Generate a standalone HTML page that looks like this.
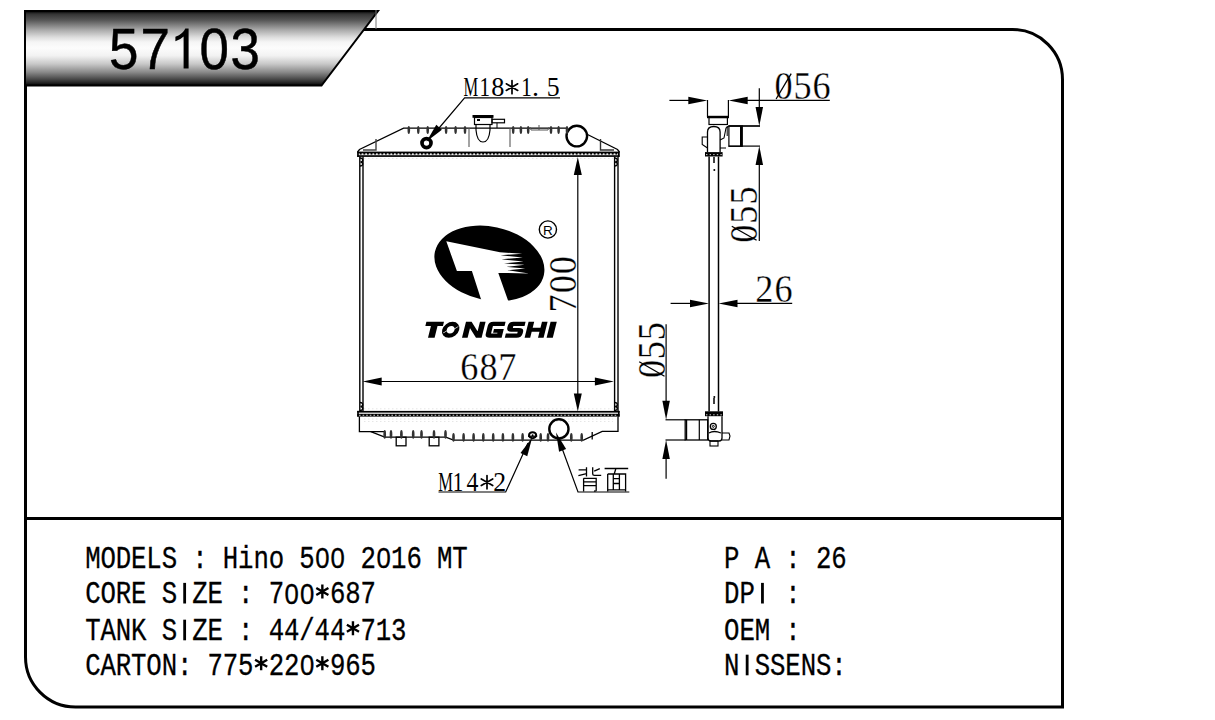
<!DOCTYPE html><html><head><meta charset="utf-8"><style>html,body{margin:0;padding:0;background:#fff;overflow:hidden;width:1215px;height:720px;}svg{display:block;}</style></head><body>
<svg width="1215" height="720" viewBox="0 0 1215 720">
<defs><linearGradient id="bg" x1="0" y1="0" x2="0" y2="1">
<stop offset="0" stop-color="#000"/><stop offset="0.04" stop-color="#333"/><stop offset="0.12" stop-color="#555"/>
<stop offset="0.255" stop-color="#aaa"/><stop offset="0.35" stop-color="#dcdcdc"/><stop offset="0.416" stop-color="#f5f5f5"/>
<stop offset="0.497" stop-color="#fcfcfc"/><stop offset="0.6" stop-color="#f2f2f2"/><stop offset="0.71" stop-color="#c8c8c8"/>
<stop offset="0.82" stop-color="#8a8a8a"/><stop offset="0.913" stop-color="#4a4a4a"/><stop offset="0.966" stop-color="#222"/><stop offset="1" stop-color="#000"/>
</linearGradient></defs>
<path d="M25.5,10 L25.5,657 A50,50 0 0 0 75.5,707 L1062.5,707 L1062.5,80 A50,50 0 0 0 1012.5,29.5 L363,29.5" fill="none" stroke="#000" stroke-width="3"/>
<line x1="25.5" y1="518.5" x2="1062.5" y2="518.5" stroke="#000" stroke-width="3"/>
<polygon points="25,11 378,11 321.5,85.5 25,85.5" fill="url(#bg)" stroke="#000" stroke-width="2"/>
<line x1="376" y1="10" x2="376" y2="29" stroke="#777" stroke-width="1"/>
<text transform="translate(123.70,68.7) scale(0.92,1)" font-family="&quot;Liberation Sans&quot;, sans-serif" font-size="57.5" text-anchor="middle" fill="#000" stroke="#000" stroke-width="0.5">5</text>
<text transform="translate(155.20,68.7) scale(0.92,1)" font-family="&quot;Liberation Sans&quot;, sans-serif" font-size="57.5" text-anchor="middle" fill="#000" stroke="#000" stroke-width="0.5">7</text>
<text transform="translate(214.30,68.7) scale(0.92,1)" font-family="&quot;Liberation Sans&quot;, sans-serif" font-size="57.5" text-anchor="middle" fill="#000" stroke="#000" stroke-width="0.5">0</text>
<text transform="translate(245.20,68.7) scale(0.92,1)" font-family="&quot;Liberation Sans&quot;, sans-serif" font-size="57.5" text-anchor="middle" fill="#000" stroke="#000" stroke-width="0.5">3</text>
<path d="M183.6,68.6 L188.6,68.6 L188.6,28.4 L185.3,28.4 Q183.2,33.6 175.4,36.8 L175.4,41.3 Q180.6,39.4 183.6,36.4 Z" fill="#000"/>
<text transform="scale(0.8300,1)" x="111.87 130.30 148.73 167.17 185.60 204.04 240.90 277.77 296.20 314.64 333.07 369.94 443.67 480.54 498.98 535.84 554.28" y="567.80" font-family="&quot;Liberation Mono&quot;, monospace" font-size="31.00" font-weight="normal" text-anchor="middle" fill="#000" stroke="#000" stroke-width="0.3">MODELS:Hino5216MT</text><text transform="translate(322.35,567.80) scale(0.9,1)" font-family="&quot;Liberation Sans&quot;, sans-serif" font-size="28.6" text-anchor="middle" fill="#000" stroke="#000" stroke-width="0.3">0</text><text transform="translate(337.65,567.80) scale(0.9,1)" font-family="&quot;Liberation Sans&quot;, sans-serif" font-size="28.6" text-anchor="middle" fill="#000" stroke="#000" stroke-width="0.3">0</text><text transform="translate(383.55,567.80) scale(0.9,1)" font-family="&quot;Liberation Sans&quot;, sans-serif" font-size="28.6" text-anchor="middle" fill="#000" stroke="#000" stroke-width="0.3">0</text>
<text transform="scale(0.8300,1)" x="111.87 130.30 148.73 167.17 204.04 240.90 259.34 296.20 333.07 406.81 425.24 443.67" y="603.50" font-family="&quot;Liberation Mono&quot;, monospace" font-size="31.00" font-weight="normal" text-anchor="middle" fill="#000" stroke="#000" stroke-width="0.3">CORESZE:7687</text><rect x="183.25" y="582.88" width="2.8" height="20.62" fill="#000"/><text transform="translate(291.75,603.50) scale(0.9,1)" font-family="&quot;Liberation Sans&quot;, sans-serif" font-size="28.6" text-anchor="middle" fill="#000" stroke="#000" stroke-width="0.3">0</text><text transform="translate(307.05,603.50) scale(0.9,1)" font-family="&quot;Liberation Sans&quot;, sans-serif" font-size="28.6" text-anchor="middle" fill="#000" stroke="#000" stroke-width="0.3">0</text><path d="M322.35,584.50 L322.35,598.50 M316.29,588.00 L328.41,595.00 M328.41,588.00 L316.29,595.00" stroke="#000" stroke-width="2.4" fill="none"/>
<text transform="scale(0.8300,1)" x="111.87 130.30 148.73 167.17 204.04 240.90 259.34 296.20 333.07 351.51 369.94 388.37 406.81 443.67 462.11 480.54" y="640.30" font-family="&quot;Liberation Mono&quot;, monospace" font-size="31.00" font-weight="normal" text-anchor="middle" fill="#000" stroke="#000" stroke-width="0.3">TANKSZE:44/44713</text><rect x="183.25" y="619.68" width="2.8" height="20.62" fill="#000"/><path d="M352.95,621.30 L352.95,635.30 M346.89,624.80 L359.01,631.80 M359.01,624.80 L346.89,631.80" stroke="#000" stroke-width="2.4" fill="none"/>
<text transform="scale(0.8300,1)" x="111.87 130.30 148.73 167.17 185.60 204.04 222.47 259.34 277.77 296.20 333.07 351.51 406.81 425.24 443.67" y="675.30" font-family="&quot;Liberation Mono&quot;, monospace" font-size="31.00" font-weight="normal" text-anchor="middle" fill="#000" stroke="#000" stroke-width="0.3">CARTON:77522965</text><path d="M261.15,656.30 L261.15,670.30 M255.09,659.80 L267.21,666.80 M267.21,659.80 L255.09,666.80" stroke="#000" stroke-width="2.4" fill="none"/><text transform="translate(307.05,675.30) scale(0.9,1)" font-family="&quot;Liberation Sans&quot;, sans-serif" font-size="28.6" text-anchor="middle" fill="#000" stroke="#000" stroke-width="0.3">0</text><path d="M322.35,656.30 L322.35,670.30 M316.29,659.80 L328.41,666.80 M328.41,659.80 L316.29,666.80" stroke="#000" stroke-width="2.4" fill="none"/>
<text transform="scale(0.8300,1)" x="881.75 918.61 955.48 992.35 1010.78" y="567.80" font-family="&quot;Liberation Mono&quot;, monospace" font-size="31.00" font-weight="normal" text-anchor="middle" fill="#000" stroke="#000" stroke-width="0.3">PA:26</text>
<text transform="scale(0.8300,1)" x="881.75 900.18 955.48" y="603.50" font-family="&quot;Liberation Mono&quot;, monospace" font-size="31.00" font-weight="normal" text-anchor="middle" fill="#000" stroke="#000" stroke-width="0.3">DP:</text><rect x="761.05" y="582.88" width="2.8" height="20.62" fill="#000"/>
<text transform="scale(0.8300,1)" x="881.75 900.18 918.61 955.48" y="640.30" font-family="&quot;Liberation Mono&quot;, monospace" font-size="31.00" font-weight="normal" text-anchor="middle" fill="#000" stroke="#000" stroke-width="0.3">OEM:</text>
<text transform="scale(0.8300,1)" x="881.75 918.61 937.05 955.48 973.92 992.35 1010.78" y="675.30" font-family="&quot;Liberation Mono&quot;, monospace" font-size="31.00" font-weight="normal" text-anchor="middle" fill="#000" stroke="#000" stroke-width="0.3">NSSENS:</text><rect x="745.75" y="654.68" width="2.8" height="20.62" fill="#000"/>
<g fill="none" stroke="#000" stroke-linecap="butt">
<polyline points="357.5,152 359.5,149.5 403.6,128.2 566.5,128.2" stroke-width="1.3"/>
<polyline points="587.5,134.5 617.5,149.5 619.5,152" stroke-width="1.3"/>
<polyline points="363,150 376,150 376,139" stroke="#444" stroke-width="1.4"/>
<polyline points="614,150 600.5,150 600.5,139" stroke="#333" stroke-width="1.4"/>
<line x1="469" y1="128.5" x2="469" y2="147" stroke="#666" stroke-width="1.2"/>
<line x1="510" y1="128.5" x2="510" y2="147" stroke="#666" stroke-width="1.2"/>
<polyline points="530,127 531,130 548,130 549,127" stroke="#555" stroke-width="1"/>
<line x1="539" y1="125" x2="539" y2="130" stroke="#555" stroke-width="1"/>
<circle cx="576.8" cy="136.1" r="10.3" stroke-width="2.4"/>
<circle cx="426.5" cy="143.1" r="4.5" stroke-width="3.7"/>
<rect x="474.5" y="117.5" width="17.5" height="7" stroke-width="1.2"/>
<path d="M476,124.5 L476,130 Q477,142 483,142 Q489,142 490,130 L490,124.5" stroke-width="1.2"/>
<rect x="492" y="119.3" width="12.5" height="3.5" stroke-width="1.2"/>
<line x1="497" y1="122.8" x2="497" y2="128" stroke-width="1"/>
</g>
<rect x="472.5" y="115" width="21" height="2.8" fill="#000"/>
<rect x="477" y="119" width="3" height="2" fill="#000"/>
<ellipse cx="408.8" cy="130" rx="1.3" ry="4.1" fill="#333"/>
<ellipse cx="418.3" cy="130" rx="1.3" ry="4.1" fill="#333"/>
<ellipse cx="427.7" cy="130" rx="1.3" ry="4.1" fill="#333"/>
<ellipse cx="446.1" cy="130" rx="1.3" ry="4.1" fill="#333"/>
<ellipse cx="455.6" cy="130" rx="1.3" ry="4.1" fill="#333"/>
<ellipse cx="465.0" cy="130" rx="1.3" ry="4.1" fill="#333"/>
<ellipse cx="513.2" cy="130" rx="1.3" ry="4.1" fill="#333"/>
<ellipse cx="520.9" cy="130" rx="1.3" ry="4.1" fill="#333"/>
<ellipse cx="528.2" cy="130" rx="1.3" ry="4.1" fill="#333"/>
<ellipse cx="551.0" cy="130" rx="1.3" ry="4.1" fill="#333"/>
<ellipse cx="558.6" cy="130" rx="1.3" ry="4.1" fill="#333"/>
<ellipse cx="567.0" cy="130" rx="1.3" ry="4.1" fill="#333"/>
<rect x="357.2" y="151.6" width="262.4" height="1.6" fill="#000"/>
<rect x="357.2" y="153.2" width="262.4" height="2.3" fill="#666"/>
<line x1="358" y1="154.4" x2="619" y2="154.4" stroke="#eee" stroke-width="1.3" stroke-dasharray="1.8,1.8"/>
<line x1="358" y1="153.3" x2="619" y2="153.3" stroke="#000" stroke-width="1.2" stroke-dasharray="1.8,1.8" stroke-dashoffset="1.8"/>
<rect x="357.2" y="155.3" width="262.4" height="1.6" fill="#000"/>
<rect x="357.2" y="151.6" width="1.6" height="5.3" fill="#000"/><rect x="618" y="151.6" width="1.6" height="5.3" fill="#000"/>
<rect x="357.2" y="410.9" width="262.4" height="1.7" fill="#000"/>
<rect x="357.2" y="413.8" width="262.4" height="2.8" fill="#000"/>
<line x1="359" y1="415.2" x2="618" y2="415.2" stroke="#ccc" stroke-width="1.1" stroke-dasharray="1.6,2"/>
<rect x="357.2" y="410.9" width="1.6" height="5.7" fill="#000"/><rect x="618" y="410.9" width="1.6" height="5.7" fill="#000"/>
<g stroke="#000" stroke-width="1.4">
<line x1="359.8" y1="156.6" x2="359.8" y2="411"/>
<line x1="363.0" y1="156.6" x2="363.0" y2="411"/>
<line x1="614.6" y1="156.6" x2="614.6" y2="411"/>
<line x1="618.0" y1="156.6" x2="618.0" y2="411"/>
</g>
<g fill="none" stroke="#000" stroke-width="1.3">
<path d="M360.0,158 C363.5,158 363.5,161.8 360.5,162 C363.5,162.2 363.5,166 360.0,166" />
<path d="M360.0,402.5 C363.5,402.5 363.5,406.3 360.5,406.5 C363.5,406.7 363.5,410.5 360.0,410.5" />
<path d="M614.6,158 C618.1,158 618.1,161.8 615.1,162 C618.1,162.2 618.1,166 614.6,166" />
<path d="M614.6,402.5 C618.1,402.5 618.1,406.3 615.1,406.5 C618.1,406.7 618.1,410.5 614.6,410.5" />
</g>
<g stroke="#e6e6e6" stroke-width="1" stroke-dasharray="1.5,2.5">
<line x1="364" y1="158.5" x2="613" y2="158.5"/><line x1="364" y1="408.8" x2="613" y2="408.8"/><line x1="364" y1="419" x2="613" y2="419"/><line x1="364" y1="421.5" x2="613" y2="421.5"/>
</g>
<g fill="none" stroke="#000" stroke-width="1.3">
<polyline points="359.4,416.6 359.4,431.7 384.7,431.7 384.7,437.2"/>
<polyline points="370.8,431.7 384.7,437.2 445.8,437.2 453.5,440.2 583.5,440.2 602.2,431.3 618,431.3 618,416.6"/>
<line x1="592.2" y1="432" x2="592.2" y2="439.5"/>
<rect x="396.2" y="437.2" width="9.8" height="8.6"/>
<rect x="429.2" y="437.2" width="9.7" height="8.6"/>
<circle cx="558.9" cy="428.9" r="9.6" stroke-width="2.4"/>
</g>
<ellipse cx="384.7" cy="434.4" rx="1.35" ry="4.3" fill="#333"/>
<ellipse cx="391.0" cy="434.4" rx="1.35" ry="4.3" fill="#333"/>
<ellipse cx="401.4" cy="434.4" rx="1.35" ry="4.3" fill="#333"/>
<ellipse cx="413.2" cy="434.4" rx="1.35" ry="4.3" fill="#333"/>
<ellipse cx="421.5" cy="434.4" rx="1.35" ry="4.3" fill="#333"/>
<ellipse cx="434.0" cy="434.4" rx="1.35" ry="4.3" fill="#333"/>
<ellipse cx="445.5" cy="434.4" rx="1.35" ry="4.3" fill="#333"/>
<ellipse cx="453.5" cy="437.4" rx="1.35" ry="4.3" fill="#333"/>
<ellipse cx="463.6" cy="437.4" rx="1.35" ry="4.3" fill="#333"/>
<ellipse cx="473.6" cy="437.4" rx="1.35" ry="4.3" fill="#333"/>
<ellipse cx="483.3" cy="437.4" rx="1.35" ry="4.3" fill="#333"/>
<ellipse cx="493.2" cy="437.4" rx="1.35" ry="4.3" fill="#333"/>
<ellipse cx="502.9" cy="437.4" rx="1.35" ry="4.3" fill="#333"/>
<ellipse cx="512.9" cy="437.4" rx="1.35" ry="4.3" fill="#333"/>
<ellipse cx="522.6" cy="437.4" rx="1.35" ry="4.3" fill="#333"/>
<ellipse cx="540.7" cy="437.4" rx="1.35" ry="4.3" fill="#333"/>
<ellipse cx="548.0" cy="437.4" rx="1.35" ry="4.3" fill="#333"/>
<ellipse cx="571.3" cy="437.4" rx="1.35" ry="4.3" fill="#333"/>
<ellipse cx="581.7" cy="437.4" rx="1.35" ry="4.3" fill="#333"/>
<ellipse cx="532.6" cy="435.2" rx="3.6" ry="3" fill="none" stroke="#000" stroke-width="2"/><rect x="528" y="435.6" width="9.2" height="1.3" fill="#000"/><circle cx="532.6" cy="435.2" r="0.9" fill="#000"/>
<g stroke="#000" stroke-width="1.2" fill="none">
<polyline points="560,97.9 464.6,97.9 434,134"/>
<polyline points="438.5,492 505.7,492 528,443"/>
<polyline points="629.3,492 578,492 559,440"/>
</g>
<g fill="#000" stroke="none">
<polygon points="426.60,141.50 436.26,124.71 441.91,129.64"/>
<polygon points="532.20,437.50 527.26,456.23 520.52,452.95"/>
<polygon points="556.00,432.60 566.12,449.11 559.08,451.72"/>
</g>
<g stroke="#000" stroke-width="1.2">
<line x1="577.8" y1="165" x2="577.8" y2="404"/>
<line x1="370" y1="381.5" x2="606" y2="381.5"/>
</g>
<g fill="#000">
<polygon points="577.80,157.00 581.80,175.00 573.80,175.00"/>
<polygon points="577.80,411.40 573.80,393.40 581.80,393.40"/>
<polygon points="362.70,381.50 381.70,377.50 381.70,385.50"/>
<polygon points="613.90,381.50 594.90,385.50 594.90,377.50"/>
</g>
<g fill="none" stroke="#000" stroke-width="1.2">
<line x1="669.4" y1="100.4" x2="690" y2="100.4"/>
<line x1="745" y1="100.4" x2="829.8" y2="100.4"/>
<line x1="707.5" y1="100" x2="707.5" y2="117"/>
<line x1="728.4" y1="100" x2="728.4" y2="117"/>
<line x1="759.3" y1="88.2" x2="759.3" y2="110"/>
<line x1="728.7" y1="126" x2="760" y2="126"/>
<line x1="728.7" y1="146.1" x2="760" y2="146.1"/>
<line x1="759.3" y1="160" x2="759.3" y2="240.9"/>
<line x1="670.6" y1="303.4" x2="692" y2="303.4"/>
<line x1="735" y1="303.4" x2="792.2" y2="303.4"/>
<line x1="666.1" y1="324.2" x2="666.1" y2="404"/>
<line x1="665.5" y1="419.8" x2="685.5" y2="419.8"/>
<line x1="665.5" y1="440" x2="685.5" y2="440"/>
<line x1="666.1" y1="455" x2="666.1" y2="478.8"/>
<line x1="709.1" y1="156.5" x2="709.1" y2="411.5" stroke-width="1.5"/>
<line x1="718.5" y1="156.5" x2="718.5" y2="411.5" stroke-width="1.5"/>
<line x1="714" y1="157" x2="714" y2="163" stroke-width="1.5"/>
<line x1="714" y1="398" x2="714" y2="404" stroke-width="1.5"/>
<rect x="709" y="117.5" width="18.4" height="7" stroke-width="1.2"/>
<polyline points="728.9,126 760,126" />
<rect x="728.9" y="126" width="13.4" height="20.3" stroke-width="1.2"/>
<line x1="741" y1="126" x2="741" y2="146.3" stroke-width="2"/>
<path d="M707.5,152 L707.5,132 Q707.5,126.5 713.8,126.5 Q720.1,126.5 720.1,132 L720.1,152" stroke-width="1.3"/>
<polyline points="707.5,137 702.2,137 702.2,144.5 707.5,148" stroke-width="1.1"/>
<path d="M720.1,140 L724,138 L726,128 L728.9,126 M726,148 L720.1,148" stroke-width="1.1"/>
<line x1="727.2" y1="126" x2="727.2" y2="136" stroke-width="1"/>
<rect x="685.2" y="419.8" width="22.5" height="20.2" stroke-width="1.3"/>
<line x1="686.6" y1="419.8" x2="686.6" y2="440" stroke-width="1.2"/>
<line x1="699.3" y1="419.8" x2="699.3" y2="440" stroke-width="1.2"/>
<path d="M708,416.2 L708,438 Q708,441 711,441 L719,441 Q722,441 722,438 L722,416.2" stroke-width="1.3"/>
<circle cx="713.3" cy="426.4" r="3" stroke-width="1.3"/>
<circle cx="713.3" cy="426.4" r="1" stroke-width="1"/>
<path d="M709,433 Q714,430 721,433" stroke-width="1.3"/>
<rect x="710" y="441" width="8" height="5" stroke-width="1.1"/>
<polyline points="722,433 729,433 730,436 729,440 722,440" stroke-width="1.1"/>
</g>
<g fill="#000">
<rect x="707" y="115.8" width="22" height="2.4"/>
<rect x="705" y="152.1" width="17.6" height="4.4"/>
<rect x="705" y="411.3" width="18" height="4.9"/>
</g><g stroke="#ccc" stroke-width="1" stroke-dasharray="1.4,2.2"><line x1="706" y1="154.6" x2="722" y2="154.6"/><line x1="706" y1="414.8" x2="722" y2="414.8"/></g><g fill="#000">
<circle cx="714.3" cy="170" r="1"/><circle cx="714.3" cy="397" r="1"/>
<polygon points="707.30,100.40 688.30,104.15 688.30,96.65"/>
<polygon points="728.70,100.40 747.70,96.65 747.70,104.15"/>
<polygon points="759.30,126.00 755.55,107.00 763.05,107.00"/>
<polygon points="759.30,146.10 763.05,165.10 755.55,165.10"/>
<polygon points="709.00,303.40 690.00,307.15 690.00,299.65"/>
<polygon points="718.50,303.40 737.50,299.65 737.50,307.15"/>
<polygon points="666.10,419.80 662.35,400.80 669.85,400.80"/>
<polygon points="666.10,440.00 669.85,459.00 662.35,459.00"/>
</g>
<ellipse cx="489.4" cy="263.4" rx="55.7" ry="36.8" transform="rotate(12 489.4 263.4)" fill="#000"/>
<polygon fill="#fff" points="446.3,241.3 500,252.3 522.2,253.7 500.5,255.2 522.8,257.5 501.5,259.3 523.5,261.5 504,263.4 524.5,264.8 506.5,266.8 525.2,268.6 507.5,270.3 529,273.4 498.3,272.9 510,306 483.2,306 471.9,271 456.9,271"/>
<circle cx="547.9" cy="229.5" r="8.6" fill="none" stroke="#000" stroke-width="1.4"/>
<text x="547.9" y="234.6" font-family="&quot;Liberation Sans&quot;, sans-serif" font-size="13.5" text-anchor="middle" fill="#000">R</text>
<g transform="translate(0,337.80) skewX(-14) translate(0,-337.80)">
<path fill="#000" fill-rule="nonzero" d="M422.40,321.80 H440.00 V326.00 H422.40 Z M428.00,321.80 H434.60 V337.80 H428.00 Z M462.00,321.80 H467.60 V337.80 H462.00 Z M476.00,321.80 H481.60 V337.80 H476.00 Z M462,321.80 L467.6,321.80 L481.6,337.80 L476,337.80 Z M489.5,321.80 H501.6 V326.00 H490 V333.60 H501.6 V337.80 H489.5 Q484.8,337.80 484.8,333.80 V325.80 Q484.8,321.80 489.5,321.80 Z M496.20,329.00 H501.60 V337.80 H496.20 Z M491.80,329.00 H501.60 V332.80 H491.80 Z M509.5,321.80 H521.6 V326.00 H510.4 V327.9 H516.5 Q521.6,327.9 521.6,332 V333.6 Q521.6,337.80 516.5,337.80 H504.8 V333.60 H516.2 V331.7 H509.6 Q504.8,331.7 504.8,327.5 V326 Q504.8,321.80 509.5,321.80 Z M524.60,321.80 H530.20 V337.80 H524.60 Z M538.00,321.80 H543.60 V337.80 H538.00 Z M524.60,327.80 H543.60 V331.80 H524.60 Z M546.60,321.80 H552.80 V337.80 H546.60 Z "/>
<path fill="#000" fill-rule="evenodd" d="M440.2,329.8 A8.5,8 0 1 0 457.2,329.8 A8.5,8 0 1 0 440.2,329.8 Z M444.8,329.8 A3.9,3.7 0 1 0 452.6,329.8 A3.9,3.7 0 1 0 444.8,329.8 Z"/>
<path stroke="#fff" stroke-width="0.9" d="M442,333 L445.5,330.5 M455.5,326.5 L452,329"/>
</g>
<text transform="translate(470.90,96.10) scale(0.590,1.000)" font-family="&quot;Liberation Serif&quot;, serif" font-size="28.00" text-anchor="middle" fill="#000" >M</text>
<text transform="translate(484.70,96.10) scale(0.750,1.000)" font-family="&quot;Liberation Serif&quot;, serif" font-size="28.00" text-anchor="middle" fill="#000" >1</text>
<text transform="translate(497.90,96.10) scale(0.940,1.000)" font-family="&quot;Liberation Serif&quot;, serif" font-size="28.00" text-anchor="middle" fill="#000" >8</text>
<path d="M512.00,80.50 L512.00,93.70 M506.28,83.80 L517.72,90.40 M517.72,83.80 L506.28,90.40" stroke="#000" stroke-width="1.70" stroke-linecap="round" fill="none"/>
<text transform="translate(526.50,96.10) scale(0.750,1.000)" font-family="&quot;Liberation Serif&quot;, serif" font-size="28.00" text-anchor="middle" fill="#000" >1</text>
<text transform="translate(535.50,96.10) scale(1.000,1.000)" font-family="&quot;Liberation Serif&quot;, serif" font-size="28.00" text-anchor="middle" fill="#000" >.</text>
<text transform="translate(553.20,96.10) scale(0.920,1.000)" font-family="&quot;Liberation Serif&quot;, serif" font-size="28.00" text-anchor="middle" fill="#000" >5</text>
<text transform="translate(445.60,491.30) scale(0.590,1.000)" font-family="&quot;Liberation Serif&quot;, serif" font-size="28.00" text-anchor="middle" fill="#000" >M</text>
<text transform="translate(458.10,491.30) scale(0.750,1.000)" font-family="&quot;Liberation Serif&quot;, serif" font-size="28.00" text-anchor="middle" fill="#000" >1</text>
<text transform="translate(472.40,491.30) scale(0.850,1.000)" font-family="&quot;Liberation Serif&quot;, serif" font-size="28.00" text-anchor="middle" fill="#000" >4</text>
<path d="M487.00,475.60 L487.00,488.80 M481.28,478.90 L492.72,485.50 M492.72,478.90 L481.28,485.50" stroke="#000" stroke-width="1.70" stroke-linecap="round" fill="none"/>
<text transform="translate(499.60,491.30) scale(0.920,1.000)" font-family="&quot;Liberation Serif&quot;, serif" font-size="28.00" text-anchor="middle" fill="#000" >2</text>
<text transform="translate(469.40,380.00) scale(0.920,1.000)" font-family="&quot;Liberation Serif&quot;, serif" font-size="39.40" text-anchor="middle" fill="#000" stroke="#fff" stroke-width="0.3">6</text>
<text transform="translate(488.60,380.00) scale(0.920,1.000)" font-family="&quot;Liberation Serif&quot;, serif" font-size="39.40" text-anchor="middle" fill="#000" stroke="#fff" stroke-width="0.3">8</text>
<text transform="translate(507.40,380.00) scale(0.920,1.000)" font-family="&quot;Liberation Serif&quot;, serif" font-size="39.40" text-anchor="middle" fill="#000" stroke="#fff" stroke-width="0.3">7</text>
<text transform="translate(576.30,303.40) rotate(-90) scale(0.920,1)" font-family="&quot;Liberation Serif&quot;, serif" font-size="39.40" text-anchor="middle" fill="#000" stroke="#fff" stroke-width="0.3">7</text>
<text transform="translate(576.30,284.30) rotate(-90) scale(0.920,1)" font-family="&quot;Liberation Serif&quot;, serif" font-size="39.40" text-anchor="middle" fill="#000" stroke="#fff" stroke-width="0.3">0</text>
<text transform="translate(576.30,265.30) rotate(-90) scale(0.920,1)" font-family="&quot;Liberation Serif&quot;, serif" font-size="39.40" text-anchor="middle" fill="#000" stroke="#fff" stroke-width="0.3">0</text>
<text transform="translate(783.50,99.00) scale(0.920,1.000)" font-family="&quot;Liberation Serif&quot;, serif" font-size="39.40" text-anchor="middle" fill="#000" stroke="#fff" stroke-width="0.3">0</text>
<text transform="translate(802.60,99.00) scale(0.920,1.000)" font-family="&quot;Liberation Serif&quot;, serif" font-size="39.40" text-anchor="middle" fill="#000" stroke="#fff" stroke-width="0.3">5</text>
<text transform="translate(821.50,99.00) scale(0.920,1.000)" font-family="&quot;Liberation Serif&quot;, serif" font-size="39.40" text-anchor="middle" fill="#000" stroke="#fff" stroke-width="0.3">6</text>
<text transform="translate(764.30,301.90) scale(0.920,1.000)" font-family="&quot;Liberation Serif&quot;, serif" font-size="39.40" text-anchor="middle" fill="#000" stroke="#fff" stroke-width="0.3">2</text>
<text transform="translate(783.60,301.90) scale(0.920,1.000)" font-family="&quot;Liberation Serif&quot;, serif" font-size="39.40" text-anchor="middle" fill="#000" stroke="#fff" stroke-width="0.3">6</text>
<text transform="translate(757.10,233.80) rotate(-90) scale(0.920,1)" font-family="&quot;Liberation Serif&quot;, serif" font-size="39.40" text-anchor="middle" fill="#000" stroke="#fff" stroke-width="0.3">0</text>
<text transform="translate(757.10,214.80) rotate(-90) scale(0.920,1)" font-family="&quot;Liberation Serif&quot;, serif" font-size="39.40" text-anchor="middle" fill="#000" stroke="#fff" stroke-width="0.3">5</text>
<text transform="translate(757.10,195.35) rotate(-90) scale(0.920,1)" font-family="&quot;Liberation Serif&quot;, serif" font-size="39.40" text-anchor="middle" fill="#000" stroke="#fff" stroke-width="0.3">5</text>
<text transform="translate(664.60,369.00) rotate(-90) scale(0.920,1)" font-family="&quot;Liberation Serif&quot;, serif" font-size="39.40" text-anchor="middle" fill="#000" stroke="#fff" stroke-width="0.3">0</text>
<text transform="translate(664.60,350.25) rotate(-90) scale(0.920,1)" font-family="&quot;Liberation Serif&quot;, serif" font-size="39.40" text-anchor="middle" fill="#000" stroke="#fff" stroke-width="0.3">5</text>
<text transform="translate(664.60,331.25) rotate(-90) scale(0.920,1)" font-family="&quot;Liberation Serif&quot;, serif" font-size="39.40" text-anchor="middle" fill="#000" stroke="#fff" stroke-width="0.3">5</text>
<g stroke="#000" stroke-width="1.3">
<line x1="776.1" y1="99" x2="791.2" y2="73.6"/>
<line x1="731.8" y1="226.2" x2="756.6" y2="240.3"/>
<line x1="639.2" y1="361.7" x2="664.5" y2="376.3"/>
</g>
<g fill="none" stroke="#000" stroke-width="1.3" stroke-linecap="butt">
<path d="M586.5,467.2 L586.5,476.5 M578.6,469.8 L586.5,469.8 M578.4,475.6 L586.5,473.6 M592.7,467.2 L592.7,474 Q592.7,475.3 594.5,475.3 L601.2,475.3 M594.2,471.2 L599.8,468.6 M583.6,478.3 L583.6,491.6 M583.6,478.3 L596.2,478.3 L596.2,490.2 Q596.2,491.4 594,491 M583.6,481.8 L596.2,481.8 M583.6,485.6 L596.2,485.6"/>
<path d="M604.6,468.5 L628.2,468.5 M615.9,468.5 L614.2,474 M607.7,474 L607.7,491.6 M607.7,474 L625.6,474 L625.6,491.6 M607.7,489.9 L625.6,489.9 M613.3,474 L613.3,489.9 M619.4,474 L619.4,489.9 M613.3,478.7 L619.4,478.7 M613.3,483.5 L619.4,483.5"/>
</g>
</svg></body></html>
